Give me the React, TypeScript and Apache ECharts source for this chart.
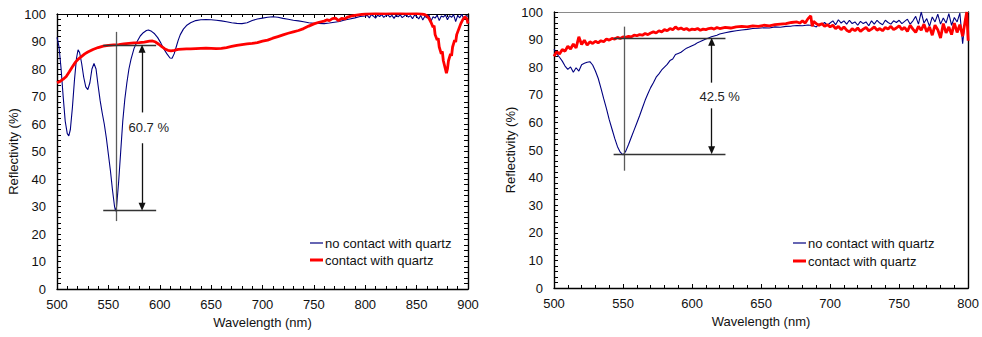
import React, { useEffect, useRef } from "react";
import * as echarts from "echarts";

// ---------- data (wavelength nm, reflectivity %) ----------
const leftNoContact: [number, number][] = [
  [500, 91.5], [502, 88], [504, 80], [506, 70], [508, 61], [510, 56.5], [511.5, 55.7], [513, 58],
  [515, 66], [517, 76], [519, 84], [520.5, 87], [522, 86], [524, 82], [526, 77], [528, 73.5],
  [530, 72.5], [532, 75], [534, 80], [536, 82], [538, 80], [540, 74], [542, 68.5], [544, 64],
  [546, 60], [548, 55], [550, 49], [552, 43], [554, 36], [556, 30], [557, 28.3], [558, 30],
  [560, 39], [562, 50], [564, 61], [566, 69], [568, 75], [570, 80], [572, 83.5], [575, 87.5],
  [578, 90], [581, 92], [584, 93.2], [587, 94], [589, 94.2], [592, 93.7], [595, 92.8], [598, 91.4],
  [601, 89.5], [604, 87.3], [607, 85.5], [610, 84], [612, 83.9], [614, 85.5], [616, 88], [618, 90.5],
  [620, 92.5], [623, 94.5], [626, 95.8], [630, 96.8], [635, 97.6], [640, 97.9], [645, 98], [650, 97.9],
  [655, 97.7], [660, 97.5], [665, 97.2], [670, 96.8], [675, 96.6], [680, 96.5], [685, 96.8], [690, 97.6],
  [695, 98.2], [700, 98.5], [705, 98.8], [710, 99], [715, 98.8], [720, 98.4], [725, 98.1], [730, 97.7],
  [735, 97.5], [740, 97.2], [745, 96.8], [750, 96.6], [755, 96.6], [760, 96.5], [765, 96.7], [770, 97],
  [775, 97.3], [780, 97.8], [785, 98.2], [790, 98.6], [795, 99.1], [800, 99.3],
  [802, 99.5], [804, 98.6], [806, 99.8], [808, 99.2], [810, 98.5], [812, 99.6], [814, 99.1], [816, 99.8],
  [818, 98.8], [820, 99.4], [822, 99.7], [824, 98.9], [826, 99.5], [828, 98.4], [830, 99.6], [832, 99.0],
  [834, 99.7], [836, 98.7], [838, 99.3], [840, 99.8], [842, 98.9], [844, 99.4], [846, 98.3], [848, 99.6],
  [850, 99.1], [852, 98.2], [854, 99.5], [856, 97.8], [858, 99.2], [860, 98.6], [862, 99.7], [864, 97.4],
  [866, 99.0], [868, 98.5], [870, 99.6], [872, 97.6], [874, 99.3], [876, 98.9], [878, 99.7], [880, 97.9],
  [882, 99.4], [884, 98.8], [886, 99.8], [888, 97.2], [890, 99.5], [892, 98.6], [894, 99.9], [896, 98.1],
  [898, 99.4], [900, 99.2],
];

const leftContact: [number, number][] = [
  [500, 75], [503, 75.5], [506, 76.3], [509, 77.3], [512, 79], [515, 80.8], [518, 82.5], [521, 83.7],
  [524, 84.6], [527, 85.5], [530, 86.2], [535, 87.1], [540, 87.8], [545, 88.3], [550, 88.6], [555, 88.8],
  [560, 88.9], [565, 89.1], [570, 89.3], [575, 89.5], [580, 89.6], [585, 89.8], [590, 90.1], [593, 90.2],
  [596, 89.8], [599, 89], [602, 88.1], [605, 87.3], [608, 86.8], [611, 86.6], [614, 86.8], [618, 87.1],
  [622, 87.2], [626, 87.3], [630, 87.3], [635, 87.4], [640, 87.5], [645, 87.6], [650, 87.5], [655, 87.4],
  [660, 87.5], [665, 87.8], [670, 88.2], [675, 88.6], [680, 88.9], [685, 89.1], [690, 89.3], [695, 89.6],
  [700, 90.1], [705, 90.5], [710, 91.2], [715, 91.8], [720, 92.4], [725, 93], [730, 93.5], [735, 94],
  [740, 94.7], [745, 95.6], [750, 96.4], [755, 97], [760, 97.4], [763, 97.9], [765, 97.6], [768, 98.3],
  [771, 98.5], [774, 97.6], [777, 98.4], [780, 98.2], [783, 98.9], [786, 99.2], [790, 99.5], [795, 99.8],
  [800, 100], [810, 100.2], [820, 100.1], [830, 100.3], [840, 100.1], [850, 100.2], [855, 100],
  [858, 99.8], [860, 99.3], [862, 98.4], [864, 97], [866, 95.2], [867, 95.8], [868, 92.5], [870, 90.5],
  [871, 91.2], [872, 88], [874, 85.5], [875, 86.4], [876, 83], [878, 80], [879, 78.5], [880, 80],
  [881, 83], [883, 85.5], [884, 84.8], [885, 88], [887, 90.5], [888, 89.8], [889, 92.5], [891, 94.5],
  [893, 96.5], [895, 98], [897, 99], [899, 98.2], [900, 96.5],
];

const rightNoContact: [number, number][] = [
  [500, 86.5], [502, 84.8], [504, 83.6], [506, 82.2], [508, 80.4], [510, 79.2], [512, 80.1], [514, 78.2],
  [516, 79.8], [518, 78.6], [520, 80.9], [522, 81.4], [524, 81.8], [526, 82.0], [528, 80.8], [530, 78.6],
  [532, 76.0], [534, 72.4], [536, 68.6], [538, 65.0], [540, 61.0], [542, 57.6], [544, 54.2], [546, 51.2],
  [548, 49.2], [550, 48.2], [552, 49.6], [554, 52.0], [556, 54.6], [558, 57.2], [560, 59.8], [562, 62.4],
  [564, 65.2], [566, 68.0], [568, 70.4], [570, 72.6], [572, 74.4], [574, 76.4], [576, 77.6], [578, 79.0],
  [580, 80.0], [582, 81.0], [584, 82.4], [586, 83.0], [588, 84.6], [590, 85.0], [592, 85.4], [594, 86.2],
  [596, 86.9], [598, 87.3], [600, 87.8], [602, 88.2], [604, 88.9], [606, 89.3], [608, 89.8], [610, 90.2],
  [612, 90.6], [614, 91.0], [616, 91.3], [618, 91.6], [620, 92.0], [624, 92.5], [628, 92.9], [632, 93.2],
  [636, 93.5], [640, 93.7], [644, 94.0], [648, 94.1], [652, 94.3], [656, 94.2], [660, 94.6], [664, 94.5],
  [668, 94.8], [672, 94.9], [676, 95.1], [680, 95.0], [684, 95.3], [688, 95.0], [690, 94.6], [692, 95.6],
  [694, 95.4], [696, 96.2], [698, 95.2], [700, 96.0], [702, 96.8], [704, 95.4], [706, 97.2], [708, 96.0],
  [710, 96.8], [712, 95.6], [714, 97.0], [716, 95.8], [718, 96.4], [720, 95.2], [722, 96.6], [724, 95.8],
  [726, 96.4], [728, 95.0], [730, 96.8], [732, 95.6], [734, 97.0], [736, 96.0], [738, 95.4], [740, 97.0],
  [742, 96.2], [744, 95.6], [746, 96.8], [748, 96.2], [750, 97.0], [752, 95.8], [754, 96.6], [756, 97.4],
  [758, 95.6], [760, 96.8], [762, 98.4], [764, 95.6], [766, 100.0], [768, 96.0], [770, 97.6], [772, 94.8],
  [774, 98.2], [776, 96.4], [778, 99.2], [780, 95.6], [782, 97.8], [784, 96.0], [786, 99.4], [788, 95.2],
  [790, 98.0], [792, 96.4], [794, 99.6], [796, 88.5], [798, 97.6], [800, 99.0],
];

const rightContact: [number, number][] = [
  [500, 84.0], [502, 85.6], [504, 84.8], [506, 86.4], [508, 85.8], [510, 87.6], [512, 86.6], [514, 88.4],
  [516, 87.0], [518, 91.0], [520, 88.2], [522, 89.8], [524, 88.0], [526, 89.2], [528, 88.6], [530, 89.4],
  [532, 88.8], [534, 89.6], [536, 89.2], [538, 90.2], [540, 89.8], [542, 90.4], [544, 90.2], [546, 90.8],
  [548, 90.4], [550, 91.0], [552, 90.8], [554, 91.2], [556, 91.0], [558, 91.6], [560, 91.4], [562, 91.8],
  [564, 91.6], [566, 92.2], [568, 91.8], [570, 92.4], [572, 92.8], [574, 92.4], [576, 93.2], [578, 92.8],
  [580, 93.6], [582, 93.2], [584, 94.0], [586, 93.6], [588, 94.6], [590, 93.8], [592, 94.2], [594, 93.6],
  [596, 94.0], [598, 93.4], [600, 93.8], [602, 93.6], [604, 94.0], [606, 93.4], [608, 93.8], [610, 93.6],
  [612, 94.0], [614, 94.2], [616, 93.8], [618, 94.4], [620, 94.0], [624, 94.4], [628, 94.2], [632, 94.6],
  [636, 94.8], [640, 94.6], [644, 95.0], [648, 94.8], [652, 95.2], [656, 95.0], [660, 95.4], [664, 95.6],
  [668, 95.8], [672, 96.2], [676, 96.4], [678, 96.0], [680, 96.8], [682, 96.0], [684, 97.6], [686, 98.6],
  [687, 94.8], [688, 96.6], [690, 95.8], [692, 95.2], [694, 95.8], [696, 94.8], [698, 95.4], [700, 94.6],
  [702, 95.2], [704, 94.0], [706, 94.8], [708, 93.6], [710, 94.6], [712, 93.4], [714, 92.8], [716, 94.0],
  [718, 93.2], [720, 94.2], [722, 93.0], [724, 93.8], [726, 94.4], [728, 93.2], [730, 93.8], [732, 94.6],
  [734, 93.4], [736, 94.0], [738, 93.2], [740, 94.4], [742, 93.8], [744, 94.8], [746, 93.6], [748, 94.2],
  [750, 95.0], [752, 93.6], [754, 94.4], [756, 93.0], [758, 95.2], [760, 93.8], [762, 92.6], [764, 94.8],
  [766, 93.4], [768, 95.6], [770, 92.8], [772, 94.6], [774, 91.6], [776, 95.2], [778, 93.6], [780, 90.6],
  [782, 95.8], [784, 92.4], [786, 94.6], [788, 91.8], [790, 96.0], [792, 92.6], [794, 95.4], [796, 91.2],
  [798, 97.2], [799, 100.0], [800, 89.6],
];

// annotation values
const leftMarker = { dipNm: 557.4, top: 88.8, bottom: 28.5, lineFrom: 545, lineTo: 596.5, arrowNm: 582.8, label: "60.7 %", labelNm: 589.3, labelR: 58.7, vTop: 93.5, vBottom: 24.7, gapTop: 64.2, gapBottom: 53 };
const rightMarker = { dipNm: 550.8, top: 90.6, bottom: 48.5, lineFrom: 543.2, lineTo: 624.2, arrowNm: 614.2, label: "42.5 %", labelNm: 620, labelR: 69.3, vTop: 94.7, vBottom: 42.5, gapTop: 74.4, gapBottom: 65.1 };

const NAME_NO = "no contact with quartz";
const NAME_YES = "contact with quartz";
const FONT = '"Liberation Sans", Arial, sans-serif';
const BLUE = "#000080";
const RED = "#ff0000";

function markers(m: typeof leftMarker) {
  const gray = { color: "#5a5a5a", width: 1.3, type: "solid" as const };
  const dark = { color: "#333", width: 1.3, type: "solid" as const };
  const arrow = { color: "#111", width: 1.3, type: "solid" as const };
  return {
    markLine: {
      silent: true,
      animation: false,
      symbol: ["none", "none"],
      label: { show: false },
      emphasis: { disabled: true },
      data: [
        [{ coord: [m.dipNm, m.vBottom], lineStyle: gray }, { coord: [m.dipNm, m.vTop] }],
        [{ coord: [m.lineFrom, m.top], lineStyle: dark }, { coord: [m.lineTo, m.top] }],
        [{ coord: [m.lineFrom, m.bottom], lineStyle: dark }, { coord: [m.lineTo, m.bottom] }],
        [
          { coord: [m.arrowNm, m.gapTop], lineStyle: arrow, symbol: "none" },
          { coord: [m.arrowNm, m.top - 1.4], symbol: "triangle", symbolSize: [7, 8] },
        ],
        [
          { coord: [m.arrowNm, m.gapBottom], lineStyle: arrow, symbol: "none" },
          { coord: [m.arrowNm, m.bottom + 1.4], symbol: "triangle", symbolSize: [7, 8] },
        ],
      ],
    },
    markPoint: {
      silent: true,
      animation: false,
      data: [
        {
          coord: [m.labelNm, m.labelR],
          symbol: "rect",
          symbolSize: 1,
          itemStyle: { color: "rgba(0,0,0,0)" },
          label: { show: true, position: "inside", formatter: m.label, color: "#222", fontSize: 13, fontFamily: FONT },
        },
      ],
    },
  };
}

function xAxes(gridIndex: number, min: number, max: number, mirrored: boolean, topColor: string) {
  return [
    {
      type: "value",
      gridIndex,
      position: "bottom",
      min,
      max,
      interval: 50,
      name: "Wavelength (nm)",
      nameLocation: "middle",
      nameGap: 27,
      nameTextStyle: { fontSize: 13, color: "#111", fontFamily: FONT },
      axisLine: { show: true, onZero: false, lineStyle: { color: "#000", width: 1.4 } },
      axisTick: { show: true, inside: true, length: 4, lineStyle: { color: "#000" } },
      minorTick: { show: true, splitNumber: 5, length: 3, lineStyle: { color: "#000" } },
      axisLabel: { fontSize: 13, color: "#111", fontFamily: FONT, margin: 9 },
      splitLine: { show: false },
    },
    {
      type: "value",
      gridIndex,
      position: "top",
      min,
      max,
      interval: 50,
      axisLine: { show: true, onZero: false, lineStyle: { color: topColor, width: 1.2 } },
      axisTick: { show: mirrored, inside: true, length: 4, lineStyle: { color: "#000" } },
      minorTick: { show: mirrored, splitNumber: 5, length: 3, lineStyle: { color: "#000" } },
      axisLabel: { show: false },
      splitLine: { show: false },
    },
  ];
}

function yAxes(gridIndex: number, mirrored: boolean, nameGap: number) {
  return [
    {
      type: "value",
      gridIndex,
      position: "left",
      min: 0,
      max: 100,
      interval: 10,
      name: "Reflectivity (%)",
      nameLocation: "middle",
      nameGap,
      nameRotate: 90,
      nameTextStyle: { fontSize: 13, color: "#111", fontFamily: FONT },
      axisLine: { show: true, onZero: false, lineStyle: { color: "#000", width: 1.4 } },
      axisTick: { show: true, inside: true, length: 4, lineStyle: { color: "#000" } },
      minorTick: { show: true, splitNumber: 5, length: 4, lineStyle: { color: "#000" } },
      axisLabel: { fontSize: 13, color: "#111", fontFamily: FONT, margin: 11 },
      splitLine: { show: false },
    },
    {
      type: "value",
      gridIndex,
      position: "right",
      min: 0,
      max: 100,
      interval: 10,
      axisLine: { show: true, onZero: false, lineStyle: { color: "#000", width: 1.4 } },
      axisTick: { show: mirrored, inside: true, length: 4, lineStyle: { color: "#000" } },
      minorTick: { show: mirrored, splitNumber: 5, length: 4, lineStyle: { color: "#000" } },
      axisLabel: { show: false },
      splitLine: { show: false },
    },
  ];
}

function legend(x: number, y1: number, y2: number) {
  const txt = (t: string, y: number) => ({
    type: "text",
    x: x + 15,
    y,
    style: { text: t, fontSize: 13, fontFamily: FONT, fill: "#111", verticalAlign: "middle", align: "left" },
  });
  return [
    { type: "line", shape: { x1: x, y1, x2: x + 13, y2: y1 }, style: { stroke: BLUE, lineWidth: 1.2 } },
    txt(NAME_NO, y1),
    { type: "line", shape: { x1: x, y1: y2, x2: x + 13, y2 }, style: { stroke: RED, lineWidth: 3 } },
    txt(NAME_YES, y2),
  ];
}

export default function App() {
  const ref = useRef<HTMLDivElement>(null);
  useEffect(() => {
    if (!ref.current) return;
    const chart = echarts.init(ref.current, null, { renderer: "svg" });
    const option: any = {
      animation: false,
      backgroundColor: "#fff",
      grid: [
        { left: 57, top: 14, width: 411, height: 275 },
        { left: 554, top: 12, width: 417, height: 276 },
      ],
      xAxis: [...xAxes(0, 500, 900, true, "#000"), ...xAxes(1, 500, 800, false, "#8a8a8a")],
      yAxis: [...yAxes(0, true, 29), ...yAxes(1, false, 34)],
      series: [
        {
          name: NAME_NO,
          type: "line",
          xAxisIndex: 0,
          yAxisIndex: 0,
          data: leftNoContact,
          showSymbol: false,
          symbol: "none",
          lineStyle: { color: BLUE, width: 1.1 },
          itemStyle: { color: BLUE },
          ...markers(leftMarker),
        },
        {
          name: NAME_YES,
          type: "line",
          xAxisIndex: 0,
          yAxisIndex: 0,
          data: leftContact,
          showSymbol: false,
          symbol: "none",
          lineStyle: { color: RED, width: 2.8 },
          itemStyle: { color: RED },
        },
        {
          name: NAME_NO,
          type: "line",
          xAxisIndex: 2,
          yAxisIndex: 2,
          data: rightNoContact,
          showSymbol: false,
          symbol: "none",
          lineStyle: { color: BLUE, width: 1.1 },
          itemStyle: { color: BLUE },
          ...markers(rightMarker),
        },
        {
          name: NAME_YES,
          type: "line",
          xAxisIndex: 2,
          yAxisIndex: 2,
          data: rightContact,
          showSymbol: false,
          symbol: "none",
          lineStyle: { color: RED, width: 2.8 },
          itemStyle: { color: RED },
        },
      ],
      graphic: [...legend(310, 243, 260), ...legend(793, 243, 261)],
    };
    chart.setOption(option);
    return () => chart.dispose();
  }, []);
  return (
    <div
      ref={ref}
      style={{ position: "fixed", left: 0, top: 0, width: 982, height: 337, background: "#fff" }}
    />
  );
}
